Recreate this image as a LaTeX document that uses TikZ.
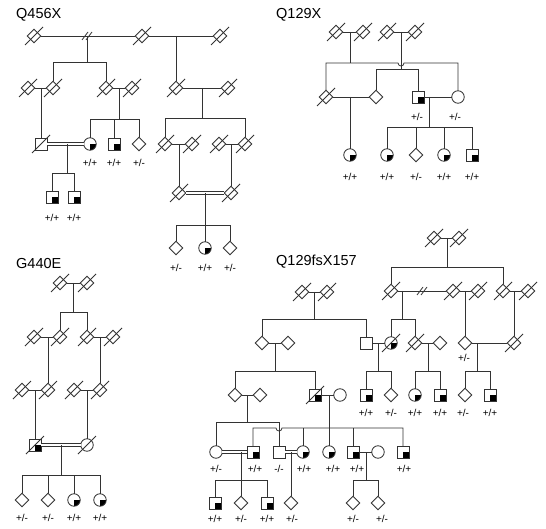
\documentclass[tikz,border=0pt]{standalone}
\usepackage{fontspec}
\setmainfont{Liberation Sans}
\usetikzlibrary{shapes.geometric}
\newcommand\dcs[1]{\draw[ln] ([shift={(-9,9)}]#1.center) -- ([shift={(9,-9)}]#1.center);}
\newcommand\sepmk[1]{\draw[ln] ([shift={(-5,4)}]#1) -- ([shift={(1,-4)}]#1) ([shift={(-1,4)}]#1) -- ([shift={(5,-4)}]#1);}
\begin{document}
\begin{tikzpicture}[x=1pt,y=-1pt,
 ln/.style={line width=0.8pt, draw=black!80},
 sym/.style={ln, fill=white, inner sep=0pt, outer sep=0pt},
 sq/.style={sym, rectangle, minimum size=12pt},
 ci/.style={sym, circle, minimum size=12.5pt},
 di/.style={sym, diamond, minimum size=13.5pt},
 aff/.style={path picture={\fill[black] (path picture bounding box.center) rectangle (path picture bounding box.south east);}},
 gt/.style={font=\fontsize{10}{11}\selectfont, inner sep=0pt},
 ttl/.style={font=\fontsize{14.5}{16}\selectfont, anchor=west, inner sep=0pt},
 dbl/.style={ln, double=white, double distance=1.8pt},
]
\useasboundingbox (0,0) rectangle (546,529);

%%%%%%%%%%%%%%%% Q456X
\node[ttl] (t1) at (16,15) {Q456X};
\node[di] (A1) at (34,36) {};
\node[di] (A2) at (142,36) {};
\node[di] (A3) at (220,36) {};
\node[di] (B1) at (28,88) {};
\node[di] (B2) at (53,88) {};
\node[di] (B3) at (106,88) {};
\node[di] (B4) at (132,88) {};
\node[di] (B5) at (176,88) {};
\node[di] (B6) at (228,88) {};
\node[sq] (C1) at (41,144) {};
\node[ci,aff] (C2) at (90,144) {};
\node[sq,aff] (C3) at (114,144) {};
\node[di] (C4) at (139,144) {};
\node[di] (C5) at (165,144) {};
\node[di] (C6) at (192,144) {};
\node[di] (C7) at (219,144) {};
\node[di] (C8) at (245,144) {};
\node[sq,aff] (D1) at (52,197) {};
\node[sq,aff] (D2) at (74,197) {};
\node[di] (D3) at (179,193) {};
\node[di] (D4) at (231,193) {};
\node[di] (E1) at (176,248) {};
\node[ci,aff] (E2) at (205,248) {};
\node[di] (E3) at (230,248) {};
\coordinate (a12) at (87,36);
\coordinate (s1) at (0,62);
\coordinate (b12) at (41,88);
\coordinate (b34) at (119,88);
\coordinate (s2) at (0,119);
\coordinate (a23) at (176,36);
\coordinate (b56) at (202,88);
\coordinate (s3) at (0,118);
\coordinate (c12) at (67,144);
\coordinate (s4) at (0,173);
\coordinate (d34) at (205,193);
\coordinate (s5) at (0,225);
\draw[ln] (A1) -- (A2);
\draw[ln] (A2) -- (A3);
\sepmk{a12}
\draw[ln] (a12) -- (a12|-s1);
\draw[ln] (B2) -- (B2|-s1) -- (B3|-s1) -- (B3);
\draw[ln] (a23) -- (B5);
\draw[ln] (B1) -- (B2);
\draw[ln] (B3) -- (B4);
\draw[ln] (B5) -- (B6);
\draw[ln] (b12) -- (C1);
\draw[ln] (b34) -- (b34|-s2);
\draw[ln] (C2) -- (C2|-s2) -- (C4|-s2) -- (C4);
\draw[ln] (C3) -- (C3|-s2);
\draw[ln] (b56) -- (b56|-s3);
\draw[ln] (C5) -- (C5|-s3) -- (C8|-s3) -- (C8);
\draw[ln] (C5) -- (C6);
\draw[ln] (C7) -- (C8);
\draw[dbl] (C1) -- (C2);
\draw[ln] (c12) -- (c12|-s4);
\draw[ln] (D1) -- (D1|-s4) -- (D2|-s4) -- (D2);
\draw[ln] (D3) -- (D3|-C5);
\draw[ln] (D4) -- (D4|-C7);
\draw[dbl] (D3) -- (D4);
\draw[ln] (d34) -- (d34|-s5);
\draw[ln] (E1) -- (E1|-s5) -- (E3|-s5) -- (E3);
\draw[ln] (E2) -- (E2|-s5);
\foreach \n in {A1,A2,A3,B1,B2,B3,B4,B5,B6,C1,C5,C6,C7,C8,D3,D4} {\dcs{\n}}
\node[gt] (x01) at (90,163) {+/+};
\node[gt] (x02) at (114,163) {+/+};
\node[gt] (x03) at (139,163) {+/-};
\node[gt] (x04) at (52,218) {+/+};
\node[gt] (x05) at (74,218) {+/+};
\node[gt] (x06) at (176,268) {+/-};
\node[gt] (x07) at (205,268) {+/+};
\node[gt] (x08) at (230,268) {+/-};

%%%%%%%%%%%%%%%% Q129X
\node[ttl] (t2) at (276,15) {Q129X};
\node[di] (F1) at (336,32) {};
\node[di] (F2) at (363,32) {};
\node[di] (F3) at (387,32) {};
\node[di] (F4) at (415,32) {};
\node[di] (G1) at (326,97) {};
\node[di] (G2) at (376,97) {};
\node[sq,aff] (G3) at (418,97) {};
\node[ci] (G4) at (458,97) {};
\node[ci,aff] (H1) at (350,155) {};
\node[ci,aff] (H2) at (387,155) {};
\node[di] (H3) at (416,155) {};
\node[ci,aff] (H4) at (444,155) {};
\node[sq,aff] (H5) at (472,155) {};
\coordinate (f12) at (350,32);
\coordinate (f34) at (401,32);
\coordinate (s6) at (0,63);
\coordinate (s7) at (0,69);
\coordinate (g12) at (350,97);
\coordinate (g34) at (429,97);
\coordinate (s8) at (0,127);
\coordinate (h1) at (f34|-s6);
\draw[ln] (F1) -- (F2);
\draw[ln] (F3) -- (F4);
\draw[ln] (f12) -- (f12|-s6);
\draw[ln] (G1) -- (G1|-s6) -- ([xshift=-3pt]h1) arc[start angle=180,end angle=0,radius=3] -- (G4|-s6) -- (G4);
\draw[ln] (f34) -- (f34|-s7);
\draw[ln] (G2) -- (G2|-s7) -- (G3|-s7) -- (G3);
\draw[ln] (G1) -- (G2);
\draw[ln] (g12) -- (H1);
\draw[ln] (G3) -- (G4);
\draw[ln] (g34) -- (g34|-s8);
\draw[ln] (H2) -- (H2|-s8) -- (H5|-s8) -- (H5);
\draw[ln] (H3) -- (H3|-s8);
\draw[ln] (H4) -- (H4|-s8);
\foreach \n in {F1,F2,F3,F4,G1} {\dcs{\n}}
\node[gt] (x11) at (417,117) {+/-};
\node[gt] (x12) at (455,117) {+/-};
\node[gt] (x13) at (350,177) {+/+};
\node[gt] (x14) at (387,177) {+/+};
\node[gt] (x15) at (416,177) {+/-};
\node[gt] (x16) at (444,177) {+/+};
\node[gt] (x17) at (472,177) {+/+};

%%%%%%%%%%%%%%%% G440E
\node[ttl] (t3) at (16,264) {G440E};
\node[di] (I1) at (60,283) {};
\node[di] (I2) at (87,283) {};
\node[di] (J1) at (34,337) {};
\node[di] (J2) at (60,337) {};
\node[di] (J3) at (87,337) {};
\node[di] (J4) at (113,337) {};
\node[di] (K1) at (22,390) {};
\node[di] (K2) at (48,390) {};
\node[di] (K3) at (74,390) {};
\node[di] (K4) at (100,390) {};
\node[sq,aff] (L1) at (35,445) {};
\node[ci] (L2) at (87,445) {};
\node[di] (M1) at (22,500) {};
\node[di] (M2) at (48,500) {};
\node[ci,aff] (M3) at (74,500) {};
\node[ci,aff] (M4) at (100,500) {};
\coordinate (i12) at (73,283);
\coordinate (s9) at (0,312);
\coordinate (l12) at (61,445);
\coordinate (s10) at (0,475);
\draw[ln] (I1) -- (I2);
\draw[ln] (i12) -- (i12|-s9);
\draw[ln] (J2) -- (J2|-s9) -- (J3|-s9) -- (J3);
\draw[ln] (J1) -- (J2);
\draw[ln] (J3) -- (J4);
\draw[ln] (K2) -- (K2|-J1);
\draw[ln] (K4) -- (K4|-J3);
\draw[ln] (K1) -- (K2);
\draw[ln] (K3) -- (K4);
\draw[ln] (L1) -- (L1|-K1);
\draw[ln] (L2) -- (L2|-K3);
\draw[dbl] (L1) -- (L2);
\draw[ln] (l12) -- (l12|-s10);
\draw[ln] (M1) -- (M1|-s10) -- (M4|-s10) -- (M4);
\draw[ln] (M2) -- (M2|-s10);
\draw[ln] (M3) -- (M3|-s10);
\foreach \n in {I1,I2,J1,J2,J3,J4,K1,K2,K3,K4,L1,L2} {\dcs{\n}}
\node[gt] (x21) at (22,518) {+/-};
\node[gt] (x22) at (48,518) {+/-};
\node[gt] (x23) at (74,518) {+/+};
\node[gt] (x24) at (100,518) {+/+};

%%%%%%%%%%%%%%%% Q129fsX157
\node[ttl] (t4) at (276,262) {Q129fsX157};
\node[di] (N1) at (434,238) {};
\node[di] (N2) at (459,238) {};
\node[di] (O1) at (391,291) {};
\node[di] (O2) at (453,291) {};
\node[di] (O3) at (478,291) {};
\node[di] (O4) at (503,291) {};
\node[di] (O5) at (528,291) {};
\node[di] (Q1) at (302,292) {};
\node[di] (Q2) at (327,292) {};
\node[di] (R1) at (262,343) {};
\node[di] (R2) at (288,343) {};
\node[sq] (P1) at (366,343) {};
\node[ci,aff] (P2) at (391,343) {};
\node[di] (P3) at (415,343) {};
\node[di] (P4) at (440,343) {};
\node[di] (P5) at (465,343) {};
\node[di] (P6) at (514,343) {};
\node[di] (S1) at (235,395) {};
\node[di] (S2) at (260,395) {};
\node[sq,aff] (S3) at (315,395) {};
\node[ci] (S4) at (340,395) {};
\node[sq,aff] (T1) at (366,395) {};
\node[di] (T2) at (391,395) {};
\node[ci,aff] (T3) at (415,395) {};
\node[sq,aff] (T4) at (440,395) {};
\node[di] (T5) at (465,395) {};
\node[sq,aff] (T6) at (490,395) {};
\node[ci] (U1) at (216,452) {};
\node[sq,aff] (U2) at (253,452) {};
\node[sq] (U3) at (279,452) {};
\node[ci,aff] (U4) at (303,452) {};
\node[ci,aff] (U5) at (329,452) {};
\node[sq,aff] (U6) at (353,452) {};
\node[ci] (U7) at (378,452) {};
\node[sq,aff] (U8) at (403,452) {};
\node[sq,aff] (V1) at (215,503) {};
\node[di] (V2) at (241,503) {};
\node[sq,aff] (V3) at (267,503) {};
\node[di] (V4) at (291,503) {};
\node[di] (V5) at (353,503) {};
\node[di] (V6) at (378,503) {};
\coordinate (n12) at (447,238);
\coordinate (s11) at (0,267);
\coordinate (sepO) at (422,291);
\coordinate (o12) at (402,291);
\coordinate (s12) at (0,319);
\coordinate (q12) at (314,292);
\coordinate (r12) at (275,343);
\coordinate (s13) at (0,371);
\coordinate (p12) at (378,343);
\coordinate (p34) at (428,343);
\coordinate (p56) at (477,343);
\coordinate (sa) at (247,395);
\coordinate (s14) at (0,422);
\coordinate (sb) at (329,395);
\coordinate (s15) at (0,428);
\coordinate (u12) at (241,452);
\coordinate (u34) at (291,452);
\coordinate (u67) at (366,452);
\coordinate (s16) at (0,480);
\coordinate (h2) at (U3|-s15);
\draw[ln] (N1) -- (N2);
\draw[ln] (n12) -- (n12|-s11);
\draw[ln] (O1) -- (O1|-s11) -- (O4|-s11) -- (O4);
\draw[ln] (O1) -- (O2);
\sepmk{sepO}
\draw[ln] (O2) -- (O3);
\draw[ln] (O4) -- (O5);
\draw[ln] (o12) -- (o12|-s12);
\draw[ln] (P2) -- (P2|-s12) -- (P3|-s12) -- (P3);
\draw[ln] (P5) -- (P5|-O2);
\draw[ln] (P6) -- (P6|-O4);
\draw[ln] (Q1) -- (Q2);
\draw[ln] (q12) -- (q12|-s12);
\draw[ln] (R1) -- (R1|-s12) -- (P1|-s12) -- (P1);
\draw[ln] (R1) -- (R2);
\draw[ln] (r12) -- (r12|-s13);
\draw[ln] (S1) -- (S1|-s13) -- (S3|-s13) -- (S3);
\draw[ln] (P1) -- (P2);
\draw[ln] (p12) -- (p12|-s13);
\draw[ln] (T1) -- (T1|-s13) -- (T2|-s13) -- (T2);
\draw[ln] (P3) -- (P4);
\draw[ln] (p34) -- (p34|-s13);
\draw[ln] (T3) -- (T3|-s13) -- (T4|-s13) -- (T4);
\draw[ln] (P5) -- (P6);
\draw[ln] (p56) -- (p56|-s13);
\draw[ln] (T5) -- (T5|-s13) -- (T6|-s13) -- (T6);
\draw[ln] (S1) -- (S2);
\draw[ln] (sa) -- (sa|-s14);
\draw[ln] (U1) -- (U1|-s14) -- (U3|-s14) -- (U3);
\draw[ln] (S3) -- (S4);
\draw[ln] (sb) -- (sb|-s15);
\draw[ln] (U2) -- (U2|-s15) -- ([xshift=-3pt]h2) arc[start angle=180,end angle=0,radius=3] -- (U8|-s15) -- (U8);
\draw[ln] (U4) -- (U4|-s15);
\draw[ln] (U5) -- (U5|-s15);
\draw[ln] (U6) -- (U6|-s15);
\draw[dbl] (U1) -- (U2);
\draw[ln] (u12) -- (u12|-s16);
\draw[ln] (V1) -- (V1|-s16) -- (V3|-s16) -- (V3);
\draw[ln] (V2) -- (V2|-s16);
\draw[dbl] (U3) -- (U4);
\draw[ln] (u34) -- (V4);
\draw[ln] (U6) -- (U7);
\draw[ln] (u67) -- (u67|-s16);
\draw[ln] (V5) -- (V5|-s16) -- (V6|-s16) -- (V6);
\foreach \n in {N1,N2,O1,O2,O3,O4,O5,Q1,Q2,P2,P3,P6,S3} {\dcs{\n}}
\node[gt] (x31) at (464,358) {+/-};
\node[gt] (x32) at (366,413) {+/+};
\node[gt] (x33) at (391,413) {+/-};
\node[gt] (x34) at (415,413) {+/+};
\node[gt] (x35) at (440,413) {+/+};
\node[gt] (x36) at (463,413) {+/-};
\node[gt] (x37) at (490,413) {+/+};
\node[gt] (x41) at (216,469) {+/-};
\node[gt] (x42) at (255,469) {+/+};
\node[gt] (x43) at (279,469) {-/-};
\node[gt] (x44) at (304,469) {+/+};
\node[gt] (x45) at (333,469) {+/+};
\node[gt] (x46) at (357,469) {+/+};
\node[gt] (x47) at (404,469) {+/+};
\node[gt] (x51) at (215,519) {+/+};
\node[gt] (x52) at (241,519) {+/-};
\node[gt] (x53) at (267,519) {+/+};
\node[gt] (x54) at (292,519) {+/-};
\node[gt] (x55) at (353,519) {+/-};
\node[gt] (x56) at (382,519) {+/-};
\end{tikzpicture}
\end{document}
